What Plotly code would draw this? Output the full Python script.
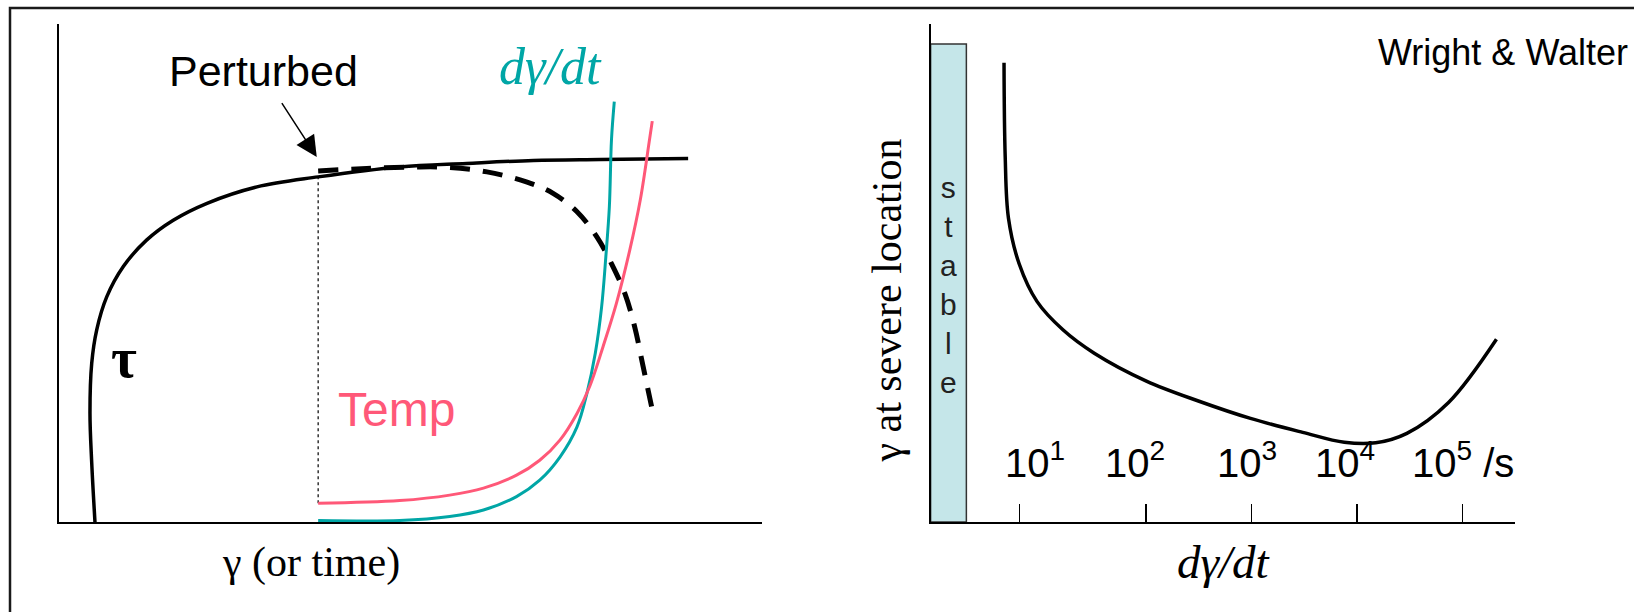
import plotly.graph_objects as go

W, H = 1634, 612

# ---------------- left panel (schematic units, 0-100 on both axes) ----------------
# flow stress tau versus strain
tau_x = [5.17, 4.71, 4.46, 4.71, 5.42, 6.84, 9.2, 12.5, 16.3, 21.1, 28.2, 36.9, 48.5, 58.0, 67.5, 77.0, 89.5]
tau_y = [0.0, 11.85, 21.9, 31.9, 38.6, 45.2, 51.3, 56.6, 60.6, 64.0, 67.3, 69.3, 71.3, 72.0, 72.6, 72.8, 73.0]

# perturbed stress (dashed)
pert_x = [36.9, 43.8, 50.9, 55.6, 60.9, 66.5, 70.3, 73.7, 76.5, 78.6, 80.5, 81.9, 83.1, 84.3]
pert_y = [70.5, 71.0, 71.3, 71.2, 70.3, 68.3, 66.0, 62.3, 57.3, 51.9, 45.9, 39.2, 31.2, 23.2]

# temperature
temp_x = [36.9, 48.5, 55.6, 60.4, 65.1, 68.4, 71.3, 73.7, 75.5, 77.4, 79.3, 81.2, 82.7, 84.0, 84.4]
temp_y = [3.75, 4.3, 5.4, 6.8, 9.4, 12.4, 16.5, 21.8, 27.2, 35.2, 43.9, 54.6, 64.7, 76.7, 80.5]

# strain rate
rate_x = [36.9, 48.5, 55.6, 60.4, 65.1, 68.4, 71.3, 73.7, 75.1, 76.3, 77.2, 77.8, 78.3, 78.6, 79.0]
rate_y = [0.3, 0.3, 1.1, 2.4, 5.1, 8.4, 13.1, 19.1, 25.8, 33.9, 43.2, 53.3, 63.3, 76.7, 84.4]

# strain at which the perturbation is applied
perturb_at = 36.9

# ---------------- right panel: strain at severe location vs log10(strain rate) ----------------
loc_x = [0.855, 0.866, 0.897, 0.999, 1.167, 1.413, 1.710, 2.204, 2.697, 3.191, 3.685,
         4.080, 4.377, 4.673, 5.068, 5.522]
loc_y = [92.2, 73.4, 61.0, 51.8, 44.3, 38.6, 33.9, 28.3, 24.3, 20.8, 18.0,
         16.0, 15.9, 17.8, 24.0, 36.7]

rate_tick_pos = [1.0, 2.2, 3.2, 4.2, 5.2]
rate_tick_labels = ["10<sup>1</sup>", "10<sup>2</sup>", "10<sup>3</sup>", "10<sup>4</sup>", "10<sup>5</sup> /s"]
rate_label_pos = [1.153, 2.095, 3.158, 4.087, 5.201]

stable_edge = 0.498
stable_top = 96.0

TEAL = "#00A6A6"
PINK = "#FF5878"
SANS = "Liberation Sans, Arial, sans-serif"
SERIF = "Liberation Serif, Times New Roman, serif"

fig = go.Figure()

fig.add_trace(go.Scatter(x=[perturb_at, perturb_at], y=[temp_y[0], 69.3], mode="lines",
                         line=dict(color="black", width=1.2, dash="dot"), xaxis="x", yaxis="y"))
fig.add_trace(go.Scatter(x=tau_x, y=tau_y, mode="lines", line=dict(color="black", width=3.5, shape="spline"),
                         xaxis="x", yaxis="y"))
fig.add_trace(go.Scatter(x=pert_x, y=pert_y, mode="lines",
                         line=dict(color="black", width=5, dash="20px,13px", shape="spline"),
                         xaxis="x", yaxis="y"))
fig.add_trace(go.Scatter(x=rate_x, y=rate_y, mode="lines", line=dict(color=TEAL, width=3, shape="spline"),
                         xaxis="x", yaxis="y"))
fig.add_trace(go.Scatter(x=temp_x, y=temp_y, mode="lines", line=dict(color=PINK, width=3, shape="spline"),
                         xaxis="x", yaxis="y"))

fig.add_trace(go.Scatter(x=loc_x, y=loc_y, mode="lines", line=dict(color="black", width=3.5, shape="spline"),
                         xaxis="x2", yaxis="y2"))

x_dom_l = [58.6 / W, 762 / W]
x_dom_r = [930.6 / W, 1514.7 / W]
y_dom = [1 - 522 / H, 1 - 24 / H]

axis_common = dict(showline=True, linecolor="black", linewidth=2, showgrid=False, zeroline=False,
                   showticklabels=False, fixedrange=True)


def label(x, y, text, font, ref=("x", "y"), **kw):
    d = dict(x=x, y=y, xref=ref[0], yref=ref[1], text=text, showarrow=False, font=font,
             xanchor="center", yanchor="middle")
    d.update(kw)
    return d


annotations = [
    label(29.2, 90.6, "Perturbed", dict(family=SANS, size=43, color="black")),
    dict(x=36.7, y=73.3, ax=31.6, ay=84.4, xref="x", yref="y", axref="x", ayref="y", text="",
         showarrow=True, arrowhead=2, arrowsize=2.8, arrowwidth=1.5, arrowcolor="black"),
    label(70.0, 91.4, "<i>dγ/dt</i>", dict(family=SERIF, size=52, color=TEAL)),
    label(48.0, 22.6, "Temp", dict(family=SANS, size=48, color=PINK)),
    label(9.3, 33.0, "<b>τ</b>", dict(family=SERIF, size=56, color="black")),
    label(311 / W, 1 - 562 / H, "γ (or time)", dict(family=SERIF, size=42, color="black"),
          ref=("paper", "paper")),
    label((0.159 + stable_edge) / 2, 47.6, "s<br>t<br>a<br>b<br>l<br>e",
          dict(family=SANS, size=30, color="#222222"), ref=("x2", "y2")),
    label(1375.6 / W, 1 - 52.7 / H, "Wright & Walter", dict(family=SANS, size=36, color="black"),
          ref=("paper", "paper"), xanchor="left"),
    label(886 / W, 1 - 300.5 / H, "γ at severe location", dict(family=SERIF, size=42, color="black"),
          ref=("paper", "paper"), textangle=-90),
    label(1223.6 / W, 1 - 562 / H, "<i>dγ/dt</i>", dict(family=SERIF, size=47, color="black"),
          ref=("paper", "paper")),
]
for pos, lab in zip(rate_label_pos, rate_tick_labels):
    annotations.append(label(pos, 12.5, lab, dict(family=SANS, size=40, color="black"), ref=("x2", "y2")))

shapes = [
    dict(type="rect", xref="x2", yref="y2", x0=0.159, x1=stable_edge, y0=0, y1=stable_top,
         fillcolor="#C5E6E9", line=dict(color="#333333", width=1.5), layer="below"),
    dict(type="path", xref="paper", yref="paper",
         path=f"M {10 / W} 0 L {10 / W} {1 - 8 / H} L 1 {1 - 8 / H}",
         line=dict(color="#1a1a1a", width=2.5)),
]

fig.update_layout(
    width=W, height=H, autosize=False,
    margin=dict(l=0, r=0, t=0, b=0),
    paper_bgcolor="white", plot_bgcolor="white",
    showlegend=False,
    xaxis=dict(domain=x_dom_l, range=[0, 100], anchor="y", **axis_common),
    yaxis=dict(domain=y_dom, range=[0, 100], anchor="x", **axis_common),
    xaxis2=dict(domain=x_dom_r, range=[0.159, 5.695], anchor="y2", ticks="inside", ticklen=18,
                tickwidth=1.5, tickcolor="black", tickmode="array", tickvals=rate_tick_pos, **axis_common),
    yaxis2=dict(domain=y_dom, range=[0, 100], anchor="x2", **axis_common),
    annotations=annotations,
    shapes=shapes,
)

fig.write_html("out.html", config=dict(displayModeBar=False, staticPlot=True))
